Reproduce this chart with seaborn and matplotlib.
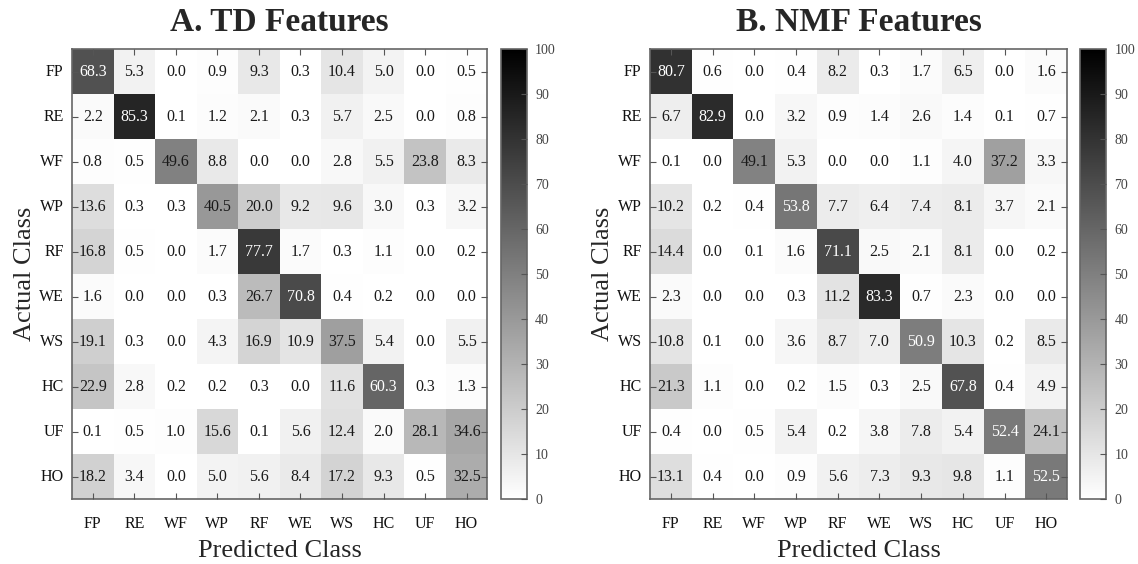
import matplotlib
matplotlib.use("Agg")
import matplotlib.pyplot as plt
import seaborn as sns
import numpy as np

# ── Data ────────────────────────────────────────────────────────────────
CLASSES = ["FP", "RE", "WF", "WP", "RF", "WE", "WS", "HC", "UF", "HO"]

td_values = [
    [68.3, 5.3, 0.0, 0.9, 9.3, 0.3, 10.4, 5.0, 0.0, 0.5],
    [2.2, 85.3, 0.1, 1.2, 2.1, 0.3, 5.7, 2.5, 0.0, 0.8],
    [0.8, 0.5, 49.6, 8.8, 0.0, 0.0, 2.8, 5.5, 23.8, 8.3],
    [13.6, 0.3, 0.3, 40.5, 20.0, 9.2, 9.6, 3.0, 0.3, 3.2],
    [16.8, 0.5, 0.0, 1.7, 77.7, 1.7, 0.3, 1.1, 0.0, 0.2],
    [1.6, 0.0, 0.0, 0.3, 26.7, 70.8, 0.4, 0.2, 0.0, 0.0],
    [19.1, 0.3, 0.0, 4.3, 16.9, 10.9, 37.5, 5.4, 0.0, 5.5],
    [22.9, 2.8, 0.2, 0.2, 0.3, 0.0, 11.6, 60.3, 0.3, 1.3],
    [0.1, 0.5, 1.0, 15.6, 0.1, 5.6, 12.4, 2.0, 28.1, 34.6],
    [18.2, 3.4, 0.0, 5.0, 5.6, 8.4, 17.2, 9.3, 0.5, 32.5],
]

nmf_values = [
    [80.7, 0.6, 0.0, 0.4, 8.2, 0.3, 1.7, 6.5, 0.0, 1.6],
    [6.7, 82.9, 0.0, 3.2, 0.9, 1.4, 2.6, 1.4, 0.1, 0.7],
    [0.1, 0.0, 49.1, 5.3, 0.0, 0.0, 1.1, 4.0, 37.2, 3.3],
    [10.2, 0.2, 0.4, 53.8, 7.7, 6.4, 7.4, 8.1, 3.7, 2.1],
    [14.4, 0.0, 0.1, 1.6, 71.1, 2.5, 2.1, 8.1, 0.0, 0.2],
    [2.3, 0.0, 0.0, 0.3, 11.2, 83.3, 0.7, 2.3, 0.0, 0.0],
    [10.8, 0.1, 0.0, 3.6, 8.7, 7.0, 50.9, 10.3, 0.2, 8.5],
    [21.3, 1.1, 0.0, 0.2, 1.5, 0.3, 2.5, 67.8, 0.4, 4.9],
    [0.4, 0.0, 0.5, 5.4, 0.2, 3.8, 7.8, 5.4, 52.4, 24.1],
    [13.1, 0.4, 0.0, 0.9, 5.6, 7.3, 9.3, 9.8, 1.1, 52.5],
]

TITLES = ["A. TD Features", "B. NMF Features"]
CBAR_TICKS = list(range(0, 101, 10))

# ── Style ───────────────────────────────────────────────────────────────
sns.set_style("white")
plt.rcParams["font.family"] = ["Liberation Serif", "DejaVu Serif"]

fig = plt.figure(figsize=(11.38, 5.64), dpi=100)

# axes positions [left, bottom, width, height] in figure fraction
layout = [
    ([0.0633, 0.115, 0.365, 0.798], [0.440, 0.115, 0.023, 0.798]),
    ([0.5712, 0.115, 0.3665, 0.798], [0.949, 0.115, 0.023, 0.798]),
]

for (ax_pos, cb_pos), title, values in zip(layout, TITLES, [td_values, nmf_values]):
    ax = fig.add_axes(ax_pos)
    cax = fig.add_axes(cb_pos)
    data = np.array(values)

    sns.heatmap(
        data, ax=ax, cbar_ax=cax, cmap="gray_r", vmin=0, vmax=100,
        annot=True, fmt=".1f", annot_kws={"size": 11.5},
        xticklabels=CLASSES, yticklabels=CLASSES,
        square=False, linewidths=0,
        cbar_kws={"ticks": CBAR_TICKS},
    )

    # texte blanc seulement au-dessus de 50
    for txt, v in zip(ax.texts, data.flatten()):
        txt.set_color("white" if v >= 50 else "#1a1a1a")

    ax.set_title(title, fontsize=24, fontweight="bold", pad=13)
    ax.set_xlabel("Predicted Class", fontsize=19, labelpad=6)
    ax.set_ylabel("Actual Class", fontsize=19, labelpad=2)

    # ticks par-dessus les cellules
    ax.set_axisbelow(False)
    cax.set_axisbelow(False)

    for side in ["top", "bottom", "left", "right"]:
        ax.spines[side].set_visible(True)
        ax.spines[side].set_color("#666666")
        ax.spines[side].set_linewidth(1.2)

    ax.tick_params(axis="both", direction="in", length=4, width=0.8,
                   color="#555555", labelsize=11.5, labelcolor="#111111",
                   top=True, right=True, bottom=True, left=True)
    ax.tick_params(axis="x", pad=12, rotation=0)
    ax.tick_params(axis="y", pad=6, rotation=0)

    cbar = ax.collections[0].colorbar
    cbar.outline.set_edgecolor("#666666")
    cbar.outline.set_linewidth(1.2)
    cax.tick_params(direction="in", length=4, width=0.8, color="#555555",
                    labelsize=10, labelcolor="#444444", pad=6, right=True)

fig.savefig("out.png", dpi=100)
